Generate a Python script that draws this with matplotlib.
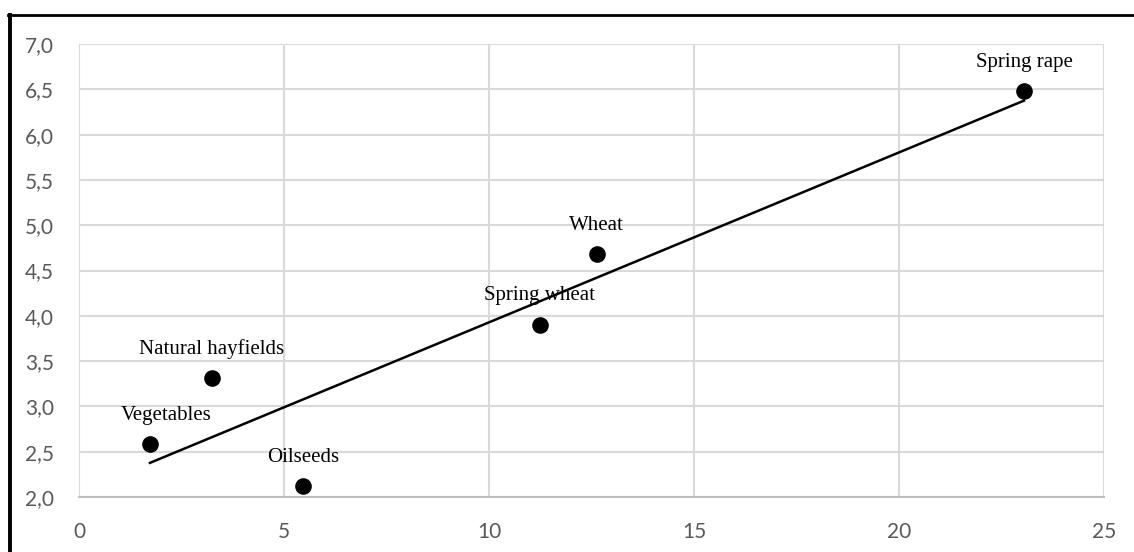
import numpy as np
import matplotlib
matplotlib.use("Agg")
import matplotlib.pyplot as plt
from matplotlib.lines import Line2D
from matplotlib.ticker import FuncFormatter

crops = ["Vegetables", "Natural hayfields", "Oilseeds", "Spring wheat", "Wheat", "Spring rape"]
x_vals = [1.73, 3.24, 5.46, 11.24, 12.63, 23.05]
y_vals = [2.58, 3.31, 2.12, 3.90, 4.68, 6.48]

# label offsets in points (dx, dy), picked by eye
label_offsets = [(12, 14), (0, 14), (0, 14), (0, 14), (0, 14), (0, 14)]

fig = plt.figure(figsize=(11.34, 5.52), dpi=100)
ax = fig.add_axes([0.0697, 0.0996, 0.9038, 0.8207])

# trend line from a least squares fit
slope, icpt = np.polyfit(x_vals, y_vals, 1)
tx = np.array([min(x_vals), max(x_vals)])
ax.plot(tx, slope * tx + icpt, color="black", lw=1.8, zorder=3)

ax.scatter(x_vals, y_vals, s=120, color="black", zorder=4)

for name, x, y, off in zip(crops, x_vals, y_vals, label_offsets):
    ax.annotate(name, (x, y), xytext=off, textcoords="offset points",
                ha="center", va="bottom", family="Liberation Serif",
                fontsize=15, color="black", zorder=5)

ax.set_xlim(0, 25)
ax.set_ylim(2.0, 7.0)
ax.set_xticks(np.arange(0, 26, 5))
ax.set_yticks(np.arange(2.0, 7.01, 0.5))
ax.yaxis.set_major_formatter(FuncFormatter(lambda v, p: f"{v:.1f}".replace(".", ",")))
ax.grid(True, color="#d9d9d9", lw=1.5)
ax.set_axisbelow(True)
ax.tick_params(length=0, labelsize=15, labelcolor="#595959", pad=18)
for lab in ax.get_xticklabels() + ax.get_yticklabels():
    lab.set_family("Lato")
for side in ["top", "right", "left"]:
    ax.spines[side].set_visible(False)
ax.spines["bottom"].set_color("#bfbfbf")
ax.spines["bottom"].set_linewidth(1.5)

# black frame on the left and top edges
fig.add_artist(Line2D([0.0085, 0.0085], [0, 0.972], color="black", lw=2.8, transform=fig.transFigure))
fig.add_artist(Line2D([0.0072, 1], [0.972, 0.972], color="black", lw=2.0, transform=fig.transFigure))

fig.savefig("out.png", dpi=100)
